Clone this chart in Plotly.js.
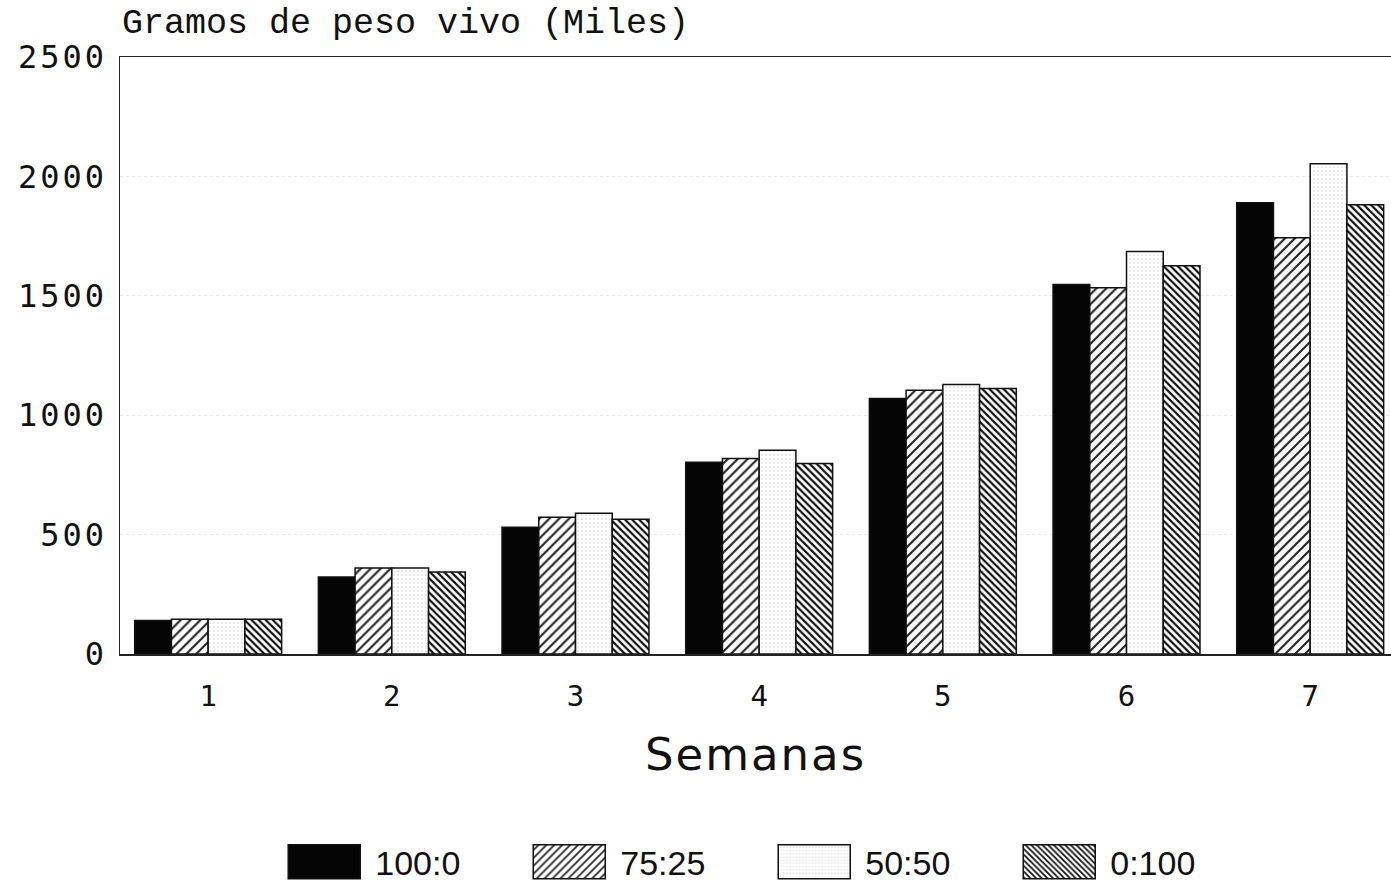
<!DOCTYPE html>
<html>
<head>
<meta charset="utf-8">
<script src="https://cdn.plot.ly/plotly-3.0.1.min.js"></script>
<style>
html,body{margin:0;padding:0;background:#fff;}
#chart{width:1391px;height:887px;}
#chart .ytick text{letter-spacing:3px;}
#chart .g-xtitle text{letter-spacing:2px;}
</style>
</head>
<body>
<div id="chart"></div>
<script>
const weeks = ['1','2','3','4','5','6','7'];
const weekNums = [1,2,3,4,5,6,7];
const s100_0  = [140, 322, 531, 803, 1070, 1547, 1890];
const s75_25  = [145, 360, 573, 819, 1104, 1534, 1743];
const s50_50  = [145, 360, 589, 853, 1129, 1685, 2053];
const s0_100  = [145, 343, 564, 798, 1112, 1626, 1881];
const seriesNames = ['100:0', '75:25', '50:50', '0:100'];
const yTicks = [0, 500, 1000, 1500, 2000, 2500];

const lineStyle = {color:'#111', width:1.5};
const traces = [
  {type:'bar', name:seriesNames[0], x:weekNums, y:s100_0,
   marker:{color:'#050505', line:lineStyle}},
  {type:'bar', name:seriesNames[1], x:weekNums, y:s75_25,
   marker:{color:'#ffffff', line:lineStyle,
     pattern:{shape:'/', fgcolor:'#222', bgcolor:'#ffffff', size:7, solidity:0.3}}},
  {type:'bar', name:seriesNames[2], x:weekNums, y:s50_50,
   marker:{color:'#ffffff', line:lineStyle,
     pattern:{shape:'.', fgcolor:'#d8d8d8', bgcolor:'#ffffff', size:4, solidity:0.15}}},
  {type:'bar', name:seriesNames[3], x:weekNums, y:s0_100,
   marker:{color:'#ffffff', line:lineStyle,
     pattern:{shape:'\\', fgcolor:'#111', bgcolor:'#ffffff', size:5, solidity:0.45}}}
];

const layout = {
  width:1391, height:887,
  paper_bgcolor:'#fff', plot_bgcolor:'#fff',
  margin:{l:120, r:0, t:57, b:233},
  barmode:'group', bargap:0.2, bargroupgap:0,
  showlegend:true,
  legend:{orientation:'h', x:0.13, xanchor:'left',
    yref:'container', y:0.028, yanchor:'middle',
    font:{family:'Liberation Sans Narrow, Liberation Sans, Arial', size:34, color:'#111'},
    itemwidth:80, entrywidth:150, entrywidthmode:'pixels', traceorder:'normal',
    itemclick:false},
  xaxis:{
    range:[0.52, 7.44], tickmode:'array', tickvals:weekNums, ticktext:weeks,
    showline:true, linecolor:'#222', linewidth:1.5, mirror:true,
    showgrid:false, zeroline:false, ticks:'', ticklabelstandoff:16,
    tickfont:{family:'DejaVu Sans Mono, monospace', size:29, color:'#111'},
    title:{text:'Semanas', standoff:26,
      font:{family:'DejaVu Sans, sans-serif', size:45, color:'#111'}}
  },
  yaxis:{
    range:[0, 2500], tickmode:'array', tickvals:yTicks,
    showline:true, linecolor:'#222', linewidth:1.5,
    showgrid:true, gridcolor:'#e8e8e8', gridwidth:1, griddash:'dot',
    zeroline:false, ticks:'', ticklabelstandoff:5,
    tickfont:{family:'DejaVu Sans Mono, monospace', size:32, color:'#111'}
  },
  annotations:[{
    text:'Gramos de peso vivo (Miles)', xref:'paper', yref:'paper',
    x:0, y:1, xanchor:'left', yanchor:'bottom', yshift:11, showarrow:false,
    font:{family:'Liberation Mono, monospace', size:35, color:'#111'}
  }]
};

Plotly.newPlot('chart', traces, layout, {displayModeBar:false, staticPlot:true}).then(function(){
  document.querySelectorAll('.legend .legendpoints path').forEach(function(p){
    p.setAttribute('d', 'M36,17H-36V-17H36Z');
    p.setAttribute('transform', 'translate(39,0)');
  });
});
</script>
</body>
</html>
